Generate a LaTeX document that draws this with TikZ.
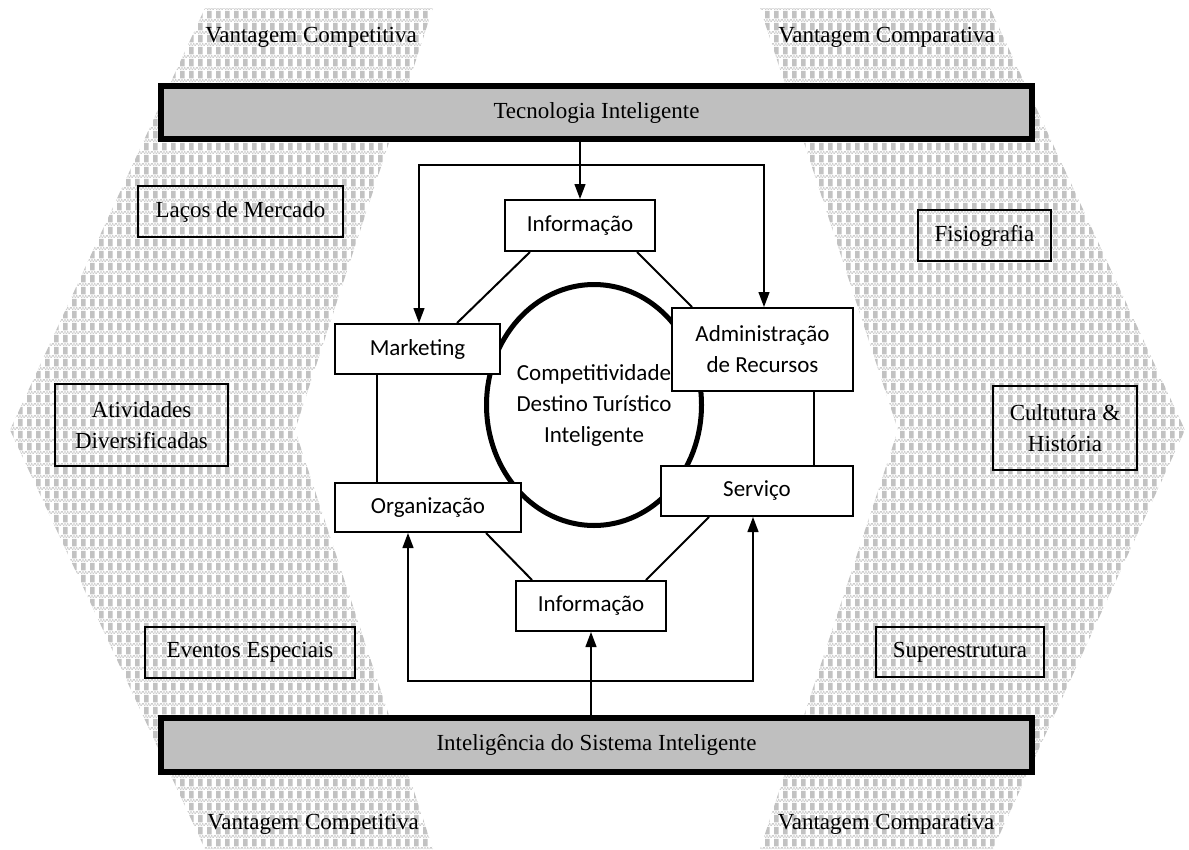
\documentclass[tikz,border=0pt]{standalone}
\usepackage{fontspec}
\setmainfont{Liberation Serif}
\newfontfamily\calfont{Carlito}
\usetikzlibrary{arrows.meta,shapes.geometric,patterns}

\definecolor{tilegray}{gray}{0.76}
\definecolor{stripgray}{gray}{0.80}
\definecolor{bargray}{gray}{0.75}

% light grey chequer used for the two side bands
\pgfdeclarepatterninherentlycolored{chequer}
  {\pgfpointorigin}{\pgfqpoint{9pt}{12pt}}{\pgfqpoint{9pt}{12pt}}
  {
    \pgfsetfillcolor{tilegray}
    \pgfpathrectangle{\pgfqpoint{0pt}{4pt}}{\pgfqpoint{5pt}{8pt}}
    \pgfusepath{fill}
    \pgfsetfillcolor{stripgray}
    \pgfpathrectangle{\pgfqpoint{0pt}{0pt}}{\pgfqpoint{1.5pt}{1.5pt}}
    \pgfpathrectangle{\pgfqpoint{3pt}{0pt}}{\pgfqpoint{1.5pt}{1.5pt}}
    \pgfpathrectangle{\pgfqpoint{6pt}{0pt}}{\pgfqpoint{1.5pt}{1.5pt}}
    \pgfpathrectangle{\pgfqpoint{1.5pt}{1.5pt}}{\pgfqpoint{1.5pt}{1.5pt}}
    \pgfpathrectangle{\pgfqpoint{4.5pt}{1.5pt}}{\pgfqpoint{1.5pt}{1.5pt}}
    \pgfpathrectangle{\pgfqpoint{7.5pt}{1.5pt}}{\pgfqpoint{1.5pt}{1.5pt}}
    \pgfusepath{fill}
  }

\begin{document}
\begin{tikzpicture}[x=1pt,y=-1pt,
  every node/.style={font=\fontsize{23}{31}\selectfont},
  outerbox/.style={draw,line width=2pt,inner sep=0pt,align=center},
  innerbox/.style={draw,line width=2pt,fill=white,inner sep=0pt,align=center,
    font=\calfont\fontsize{23}{31}\selectfont},
  bar/.style={draw,line width=6pt,fill=bargray,inner sep=0pt,minimum width=871pt},
  link/.style={line width=1.3pt},
  diag/.style={line width=2pt},
  tip/.tip={Triangle[length=15pt,width=11pt]},
  arr/.style={line width=1.3pt,-tip},
  twoarr/.style={line width=1.3pt,tip-tip}]

\useasboundingbox (0,0) rectangle (1189,849);

% side bands
\path[pattern=chequer] (205,8) -- (433,8) -- (295,430) -- (433,849)
  -- (205,849) -- (10,430) -- cycle;
\path[pattern=chequer] (760,8) -- (990,8) -- (1185,430) -- (993,849)
  -- (760,849) -- (898,430) -- cycle;

% corner labels
\node[anchor=base] (vcomp1) at (311,42) {Vantagem Competitiva};
\node[anchor=base] (vcomr1) at (886.5,42) {Vantagem Comparativa};
\node[anchor=base] (vcomp2) at (313,829) {Vantagem Competitiva};
\node[anchor=base] (vcomr2) at (886,829) {Vantagem Comparativa};

% top and bottom bars
\node[bar,minimum height=53pt] (tech) at (596.5,112.5) {Tecnologia Inteligente};
\node[bar,minimum height=54pt] (intel) at (596.5,745) {Inteligência do Sistema Inteligente};

% factors in the side bands
\node[outerbox,minimum width=205pt,minimum height=51pt] (laco) at (240.5,211.5) {Laços de Mercado};
\node[outerbox,minimum width=133pt,minimum height=51pt] (fisio) at (984.5,235.5) {Fisiografia};
\node[outerbox,minimum width=173pt,minimum height=82pt] (ativ) at (141.5,425) {Atividades\\Diversificadas};
\node[outerbox,minimum width=144pt,minimum height=84pt] (cult) at (1065,428) {Cultutura \&\\História};
\node[outerbox,minimum width=210pt,minimum height=51pt] (event) at (250,652.5) {Eventos Especiais};
\node[outerbox,minimum width=168pt,minimum height=50pt] (super) at (960,652) {Superestrutura};

% central ellipse
\node[ellipse,draw,line width=5pt,fill=white,minimum width=215pt,minimum height=241pt,
  inner xsep=-6pt,inner ysep=-6pt,align=center,font=\calfont\fontsize{23}{31}\selectfont]
  (core) at (594,405) {Competitividade\\Destino Turístico\\Inteligente};

% inner boxes
\node[innerbox,minimum width=150pt,minimum height=51pt] (info1) at (580,225.5) {Informação};
\node[innerbox,minimum width=165pt,minimum height=50pt] (mkt) at (417.5,349) {Marketing};
\node[innerbox,minimum width=181pt,minimum height=83pt] (adm) at (762.5,349.5) {Administração\\de Recursos};
\node[innerbox,minimum width=186pt,minimum height=49pt] (org) at (428,507.5) {Organização};
\node[innerbox,minimum width=192pt,minimum height=50pt] (srv) at (757,491) {Serviço};
\node[innerbox,minimum width=150pt,minimum height=50pt] (info2) at (591,606) {Informação};

% feeds from the bars
\coordinate (tl) at (419,165);
\coordinate (tr) at (764,165);
\draw[arr] (tech.south -| info1.north) -- (info1.north);
\draw[twoarr] (tl |- mkt.north) -- (tl) -- (tr) -- (tr |- adm.north);

\coordinate (bl) at (408,681);
\coordinate (br) at (753,681);
\draw[arr] (intel.north -| info2.south) -- (info2.south);
\draw[twoarr] (bl |- org.south) -- (bl) -- (br) -- (br |- srv.south);

% ring of links
\draw[diag] ([xshift=26pt]info1.south west) -- ([xshift=-44pt]mkt.north east);
\draw[diag] ([xshift=-19pt]info1.south east) -- ([xshift=21pt]adm.north west);
\draw[diag] ([xshift=-36pt]org.south east) -- ([xshift=17pt]info2.north west);
\draw[diag] ([xshift=49pt]srv.south west) -- ([xshift=-21pt]info2.north east);
\draw[link] ([xshift=43pt]mkt.south west) -- ([xshift=43pt]org.north west);
\draw[link] ([xshift=-40pt]adm.south east) -- ([xshift=-40pt]srv.north east);

\end{tikzpicture}
\end{document}
